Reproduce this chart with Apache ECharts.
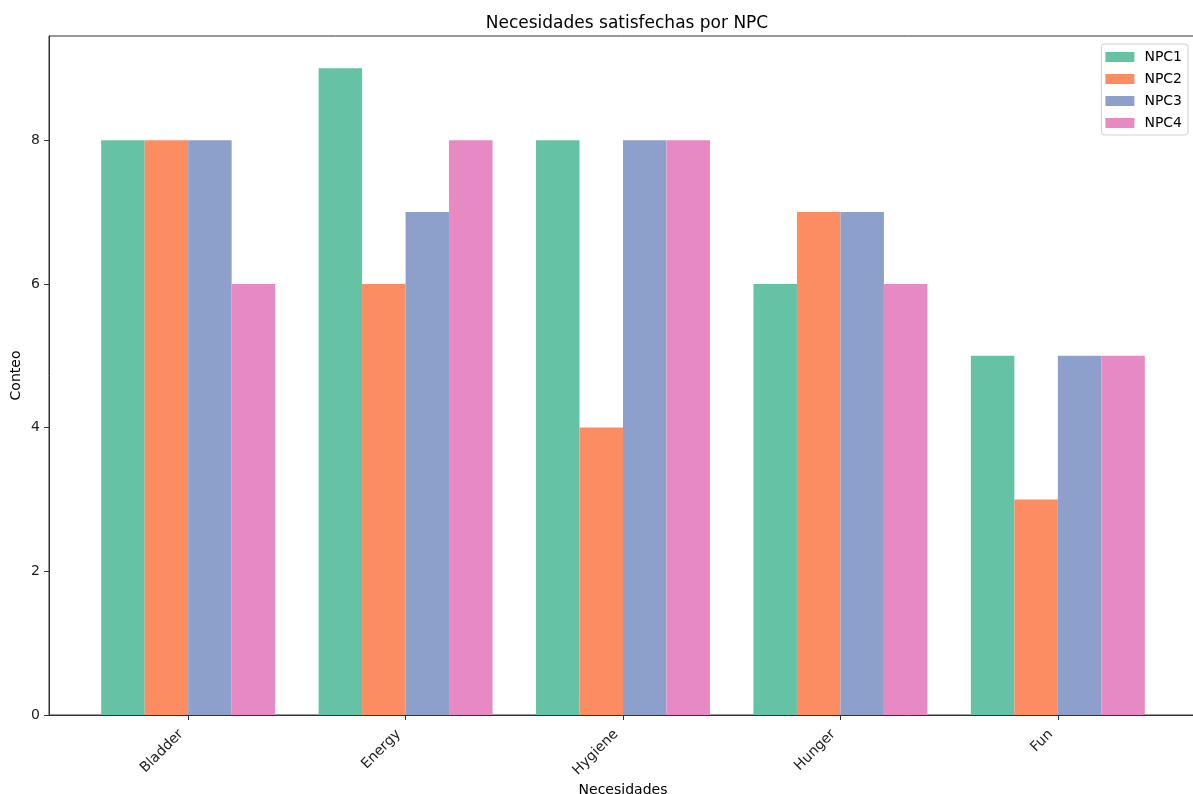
<!DOCTYPE html>
<html><head><meta charset="utf-8">
<script src="https://cdn.jsdelivr.net/npm/echarts@6/dist/echarts.min.js"></script>
<style>html,body{margin:0;padding:0;background:#fff}#c{width:1193px;height:794px}</style>
</head><body><div id="c"></div>
<script>
const categories = ['Bladder', 'Energy', 'Hygiene', 'Hunger', 'Fun'];
const seriesNames = ['NPC1', 'NPC2', 'NPC3', 'NPC4'];
const npc1 = [8, 9, 8, 6, 5];
const npc2 = [8, 6, 4, 7, 3];
const npc3 = [8, 7, 8, 7, 5];
const npc4 = [6, 8, 8, 6, 5];
const yTicks = [0, 2, 4, 6, 8];
const colors = ['#66c2a5', '#fc8d62', '#8da0cb', '#e78ac3'];

const allValues = [npc1, npc2, npc3, npc4];
const barW = 0.2;
const font = 'DejaVu Sans';

const chart = echarts.init(document.getElementById('c'));
const series = allValues.map((vals, si) => ({
  type: 'custom',
  name: seriesNames[si],
  itemStyle: { color: colors[si] },
  data: vals.map((v, i) => [i + (si - 1.5) * barW, v]),
  encode: { x: 0, y: 1 },
  renderItem: function (params, api) {
    const x = api.value(0), y = api.value(1);
    const p0 = api.coord([x - barW / 2, 0]);
    const p1 = api.coord([x + barW / 2, y]);
    return {
      type: 'rect',
      shape: { x: p0[0], y: p1[1], width: p1[0] - p0[0], height: p0[1] - p1[1] },
      style: { fill: colors[si] }
    };
  }
}));

chart.setOption({
  animation: false,
  textStyle: { fontFamily: font },
  title: {
    text: 'Necesidades satisfechas por NPC',
    left: 622, top: 10, textAlign: 'center',
    textStyle: { fontFamily: font, fontSize: 17, fontWeight: 'normal', color: '#000' }
  },
  legend: {
    right: 5, top: 44, orient: 'vertical',
    data: seriesNames.map((n, i) => ({ name: n, itemStyle: { color: colors[i] }, icon: 'rect' })),
    itemWidth: 29, itemHeight: 10, itemGap: 8,
    padding: [6, 6, 5, 4],
    borderColor: '#d0d0d0', borderWidth: 1, borderRadius: 3,
    backgroundColor: 'rgba(255,255,255,0.8)',
    textStyle: { fontFamily: font, fontSize: 14, color: '#000', padding: [0, 0, 0, 5] }
  },
  grid: { left: 49, right: -4, top: 36, bottom: 79, show: true, borderColor: '#333', borderWidth: 1, outerBoundsMode: 'none', containLabel: false },
  xAxis: {
    type: 'value', min: -0.64, max: 4.64,
    name: 'Necesidades', nameLocation: 'middle', nameGap: 68, nameMoveOverlap: false,
    nameTextStyle: { fontFamily: font, fontSize: 14, color: '#000' },
    splitLine: { show: false },
    axisLine: { onZero: false, lineStyle: { color: '#333' } },
    axisTick: { show: true, length: 5, lineStyle: { color: '#333' }, customValues: [0, 1, 2, 3, 4] },
    axisLabel: {
      customValues: [0, 1, 2, 3, 4], rotate: 45, margin: 10, padding: [0, 10, 0, 0],
      fontFamily: font, fontSize: 14, color: '#222',
      formatter: v => categories[Math.round(v)]
    }
  },
  yAxis: {
    type: 'value', min: 0, max: 9.45,
    name: 'Conteo', nameLocation: 'middle', nameGap: 26, nameMoveOverlap: false,
    nameTextStyle: { fontFamily: font, fontSize: 14, color: '#000' },
    splitLine: { show: false },
    axisLine: { show: true, onZero: false, lineStyle: { color: '#333' } },
    axisTick: { show: true, length: 5, lineStyle: { color: '#333' }, customValues: yTicks },
    axisLabel: { customValues: yTicks, fontFamily: font, fontSize: 14, color: '#222', margin: 9 }
  },
  series: series
});
</script></body></html>
